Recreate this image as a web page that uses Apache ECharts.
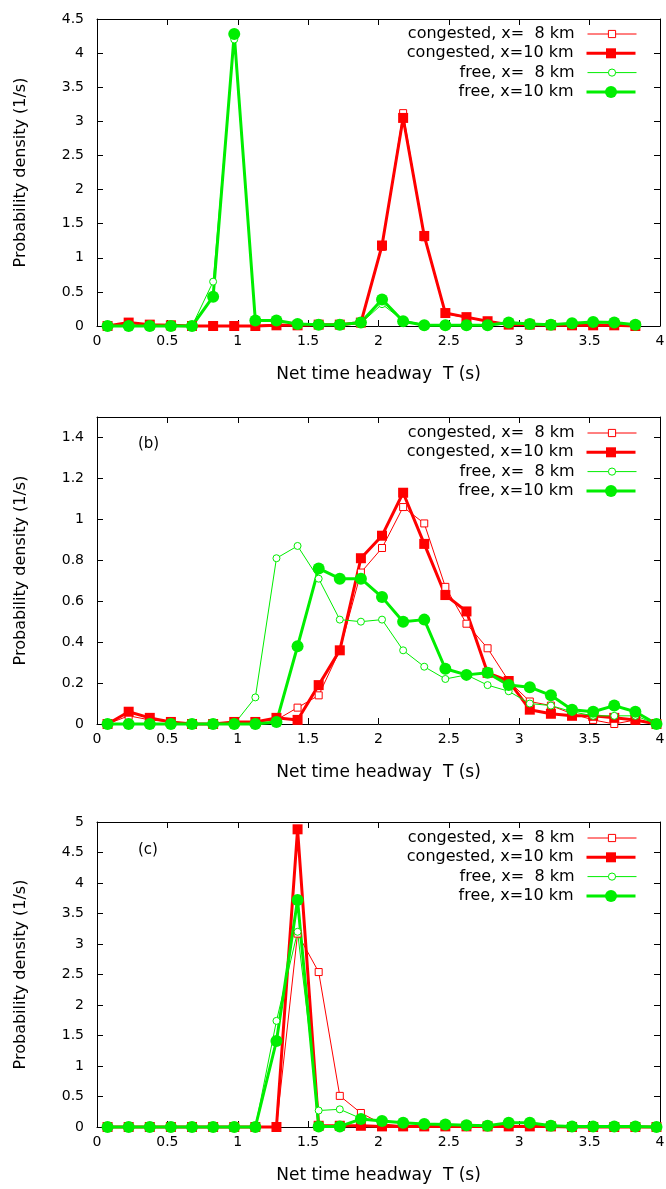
<!DOCTYPE html>
<html>
<head>
<meta charset="utf-8">
<script src="https://cdn.jsdelivr.net/npm/echarts@6/dist/echarts.min.js"></script>
<style>
html,body{margin:0;padding:0;background:#ffffff;}
#chart{width:666px;height:1189px;}
</style>
</head>
<body>
<div id="chart"></div>
<script>
// Bin centres (net time headway, s)
const xBins = [0.075, 0.225, 0.375, 0.525, 0.675, 0.825, 0.975, 1.125, 1.275, 1.425, 1.575, 1.725, 1.875, 2.025, 2.175, 2.325, 2.475, 2.625, 2.775, 2.925, 3.075, 3.225, 3.375, 3.525, 3.675, 3.825, 3.975];

const seriesNames = ['congested, x=  8 km', 'congested, x=10 km', 'free, x=  8 km', 'free, x=10 km'];
const xTitle = 'Net time headway  T (s)';
const yTitle = 'Probability density (1/s)';
const panelLabels = ['', '(b)', '(c)'];

// Panel (a)
const aCong8  = [0, 0.04, 0.02, 0.01, 0, 0, 0.01, 0, 0.03, 0.01, 0.02, 0.01, 0.04, 1.16, 3.12, 1.30, 0.18, 0.12, 0.07, 0.03, 0.02, 0.01, 0, 0, 0, 0];
const aCong10 = [0, 0.05, 0.02, 0.01, 0, 0, 0, 0, 0.01, 0.01, 0.02, 0.02, 0.05, 1.18, 3.05, 1.32, 0.19, 0.13, 0.07, 0.02, 0.02, 0.01, 0.01, 0.01, 0.01, 0];
const aFree8  = [0, 0, 0, 0, 0, 0.65, 4.2, 0.08, 0.08, 0.03, 0.02, 0.02, 0.04, 0.32, 0.08, 0.02, 0.01, 0.01, 0.01, 0.03, 0.02, 0.03, 0.03, 0.04, 0.05, 0.02];
const aFree10 = [0, 0, 0, 0, 0, 0.43, 4.28, 0.08, 0.08, 0.03, 0.02, 0.02, 0.05, 0.39, 0.07, 0.01, 0.01, 0.01, 0.01, 0.05, 0.03, 0.02, 0.04, 0.06, 0.05, 0.02];

// Panel (b)
const bCong8  = [0, 0.04, 0.02, 0.01, 0, 0, 0.01, 0.01, 0.02, 0.08, 0.14, 0.36, 0.74, 0.86, 1.06, 0.98, 0.67, 0.49, 0.37, 0.21, 0.11, 0.09, 0.05, 0.02, 0, 0.02, 0];
const bCong10 = [0, 0.06, 0.03, 0.01, 0, 0, 0.01, 0.01, 0.03, 0.02, 0.19, 0.36, 0.81, 0.92, 1.13, 0.88, 0.63, 0.55, 0.25, 0.21, 0.07, 0.05, 0.04, 0.04, 0.03, 0.02, 0];
const bFree8  = [0, 0, 0, 0, 0, 0, 0, 0.13, 0.81, 0.87, 0.71, 0.51, 0.50, 0.51, 0.36, 0.28, 0.22, 0.24, 0.19, 0.16, 0.10, 0.09, 0.06, 0.04, 0.04, 0.04, 0];
const bFree10 = [0, 0, 0, 0, 0, 0, 0, 0, 0.01, 0.38, 0.76, 0.71, 0.71, 0.62, 0.50, 0.51, 0.27, 0.24, 0.25, 0.19, 0.18, 0.14, 0.07, 0.06, 0.09, 0.06, 0];

// Panel (c)
const cCong8  = [0, 0, 0, 0, 0, 0, 0, 0, 0, 3.17, 2.54, 0.51, 0.23, 0.05, 0.02, 0.01, 0.01, 0, 0, 0, 0.01, 0, 0, 0, 0, 0, 0];
const cCong10 = [0, 0, 0, 0, 0, 0, 0, 0, 0, 4.88, 0.02, 0.02, 0.02, 0.01, 0.01, 0.01, 0.01, 0.01, 0.01, 0.01, 0.01, 0.01, 0, 0, 0, 0, 0];
const cFree8  = [0, 0, 0, 0, 0, 0, 0, 0, 1.74, 3.2, 0.27, 0.29, 0.14, 0.10, 0.07, 0.05, 0.04, 0.03, 0.02, 0.06, 0.07, 0.02, 0.01, 0.01, 0.01, 0.01, 0];
const cFree10 = [0, 0, 0, 0, 0, 0, 0, 0, 1.41, 3.72, 0.01, 0.01, 0.13, 0.10, 0.07, 0.05, 0.04, 0.03, 0.02, 0.07, 0.07, 0.02, 0.01, 0.01, 0.01, 0.01, 0];

// Y-axis scales per panel
const yMaxes = [4.5, 1.5, 5];
const yIntervals = [0.5, 0.2, 0.5];

const panelData = [
  [aCong8, aCong10, aFree8, aFree10],
  [bCong8, bCong10, bFree8, bFree10],
  [cCong8, cCong10, cFree8, cFree10]
];

const RED = '#ff0000';
const GREEN = '#00ee00';
const FONT = 'DejaVu Sans';

const styles = [
  {color: RED, width: 1, symbol: 'rect', size: 7, hollow: true, legendH: 9},
  {color: RED, width: 3, symbol: 'rect', size: 10, hollow: false, legendH: 12.5},
  {color: GREEN, width: 1, symbol: 'circle', size: 7, hollow: true, legendH: 9},
  {color: GREEN, width: 3, symbol: 'circle', size: 12, hollow: false, legendH: 15}
];

const gridTops = [19, 417, 822];
const gridHeights = [307, 307, 305];
const legendTops = [26, 425, 830];
const legendRowStep = 19.3;

const grid = gridTops.map((t, i) => ({left: 97, right: 6, top: t, height: gridHeights[i], outerBoundsMode: 'none', containLabel: false}));

const axisLineStyle = {show: true, onZero: false, lineStyle: {color: '#000', width: 1}};
const tickStyle = {show: true, inside: true, length: 6, lineStyle: {color: '#000', width: 1}};

const xAxis = [];
const yAxis = [];
for (let i = 0; i < 3; i++) {
  xAxis.push({
    type: 'value', gridIndex: i, position: 'bottom', min: 0, max: 4, interval: 0.5,
    axisLine: axisLineStyle, axisTick: tickStyle, splitLine: {show: false},
    axisLabel: {margin: 8, color: '#000', fontFamily: FONT, fontSize: 14, hideOverlap: false},
    name: xTitle, nameLocation: 'middle', nameGap: 40,
    nameTextStyle: {color: '#000', fontFamily: FONT, fontSize: 17}
  });
  xAxis.push({
    type: 'value', gridIndex: i, position: 'top', min: 0, max: 4, interval: 0.5,
    axisLine: axisLineStyle, axisTick: tickStyle, splitLine: {show: false},
    axisLabel: {show: false}
  });
  yAxis.push({
    type: 'value', gridIndex: i, position: 'left', min: 0, max: yMaxes[i], interval: yIntervals[i],
    axisLine: axisLineStyle, axisTick: tickStyle, splitLine: {show: false},
    axisLabel: {margin: 13, color: '#000', fontFamily: FONT, fontSize: 14, showMaxLabel: i !== 1, hideOverlap: false},
    name: yTitle, nameLocation: 'middle', nameGap: 68, nameRotate: 90,
    nameTextStyle: {color: '#000', fontFamily: FONT, fontSize: 16}
  });
  yAxis.push({
    type: 'value', gridIndex: i, position: 'right', min: 0, max: yMaxes[i], interval: yIntervals[i],
    axisLine: axisLineStyle, axisTick: tickStyle, splitLine: {show: false},
    axisLabel: {show: false}
  });
}

function itemStyleFor(st) {
  return st.hollow
    ? {color: '#ffffff', borderColor: st.color, borderWidth: 1}
    : {color: st.color, borderColor: st.color, borderWidth: 0};
}

const series = [];
for (let i = 0; i < 3; i++) {
  panelData[i].forEach((vals, s) => {
    const st = styles[s];
    series.push({
      type: 'line',
      name: seriesNames[s],
      xAxisIndex: 2 * i,
      yAxisIndex: 2 * i,
      data: vals.map((v, k) => [xBins[k], v]),
      symbol: st.symbol,
      symbolSize: st.size,
      showSymbol: true,
      clip: false,
      lineStyle: {color: st.color, width: st.width},
      itemStyle: itemStyleFor(st),
      emphasis: {disabled: true},
      animation: false
    });
  });
}

// One legend entry per component so each sample can have its own marker size
const legend = [];
legendTops.forEach(t => {
  seriesNames.forEach((nm, k) => {
    const st = styles[k];
    legend.push({
      orient: 'vertical', right: 29, top: t + k * legendRowStep, padding: 0,
      itemWidth: 49, itemHeight: st.legendH, align: 'right', selectedMode: false,
      textStyle: {fontFamily: FONT, fontSize: 16, color: '#000', padding: [0, 8, 0, 0]},
      lineStyle: {color: st.color, width: st.width},
      itemStyle: itemStyleFor(st),
      data: [nm]
    });
  });
});

const title = [
  {text: panelLabels[1], left: 138, top: 437, padding: 0, textStyle: {fontFamily: FONT, fontSize: 15, fontWeight: 'normal', color: '#000'}},
  {text: panelLabels[2], left: 138, top: 843, padding: 0, textStyle: {fontFamily: FONT, fontSize: 15, fontWeight: 'normal', color: '#000'}}
];

const chart = echarts.init(document.getElementById('chart'), null, {renderer: 'canvas'});
chart.setOption({
  animation: false,
  backgroundColor: '#ffffff',
  title: title,
  legend: legend,
  grid: grid,
  xAxis: xAxis,
  yAxis: yAxis,
  series: series
});
</script>
</body>
</html>
